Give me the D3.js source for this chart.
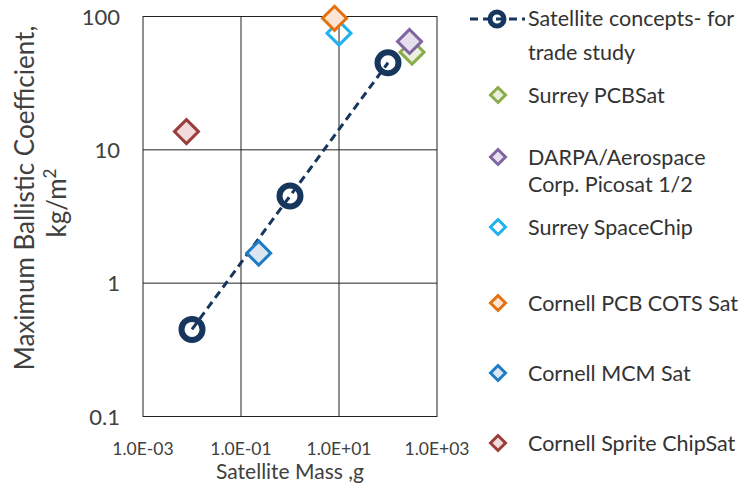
<!DOCTYPE html>
<html>
<head>
<meta charset="utf-8">
<script src="https://cdn.jsdelivr.net/npm/d3@7"></script>
<style>
  body { margin: 0; background: #fff; }
  text { font-family: Lato, 'Open Sans', sans-serif; fill: #333; }
</style>
</head>
<body>
<script>
// satellite concepts (dashed line with ring markers)
const conceptMass = [0.01, 1, 100]
const conceptBC = [0.45, 4.5, 45]

// reference satellites (diamonds), in legend order
const satNames = ['Surrey PCBSat', 'DARPA/Aerospace Corp. Picosat 1/2', 'Surrey SpaceChip',
  'Cornell PCB COTS Sat', 'Cornell MCM Sat', 'Cornell Sprite ChipSat']
const satMass = [310, 275, 10, 8.1, 0.23, 0.0077]
const satBC = [54, 65, 75, 97, 1.68, 13.7]

const xTicks = [1e-3, 1e-1, 1e1, 1e3]
const xTickLabels = ['1.0E-03', '1.0E-01', '1.0E+01', '1.0E+03']
const yTicks = [0.1, 1, 10, 100]
const yTickLabels = ['0.1', '1', '10', '100']

const width = 753, height = 489
const plot = { left: 143, right: 437, top: 16.5, bottom: 416.5 }
const navy = '#17365d'
const strokes = ['#8aac4c', '#8064a2', '#1fb2ec', '#e4700f', '#1f7cc4', '#9a3d3b']
const fills = ['#ebf1de', '#e6e0ec', 'none', '#fde4d3', '#dce6f2', '#f2dcdb']

const svg = d3.select('body').append('svg')
  .attr('width', width)
  .attr('height', height)

const x = d3.scaleLog().domain([1e-3, 1e3]).range([plot.left, plot.right])
const y = d3.scaleLog().domain([0.1, 100]).range([plot.bottom, plot.top])

// grid + frame
svg.append('g').selectAll('line')
  .data(xTicks.slice(1, -1))
  .enter().append('line')
  .attr('x1', d => x(d)).attr('x2', d => x(d))
  .attr('y1', plot.top).attr('y2', plot.bottom)
  .attr('stroke', '#222').attr('stroke-width', 1)
svg.append('g').selectAll('line')
  .data(yTicks.slice(1, -1))
  .enter().append('line')
  .attr('y1', d => y(d)).attr('y2', d => y(d))
  .attr('x1', plot.left).attr('x2', plot.right)
  .attr('stroke', '#222').attr('stroke-width', 1)
svg.append('rect')
  .attr('x', plot.left).attr('y', plot.top)
  .attr('width', plot.right - plot.left).attr('height', plot.bottom - plot.top)
  .attr('fill', 'none').attr('stroke', '#222').attr('stroke-width', 1)

// tick labels
svg.append('g').selectAll('text')
  .data(yTicks)
  .enter().append('text')
  .attr('x', plot.left - 23)
  .attr('y', d => y(d) + 8)
  .attr('text-anchor', 'end')
  .style('font-size', '22px')
  .style('fill', '#404040')
  .text((d, i) => yTickLabels[i])

svg.append('g').selectAll('text')
  .data(xTicks)
  .enter().append('text')
  .attr('x', d => x(d))
  .attr('y', 455)
  .attr('text-anchor', 'middle')
  .style('font-size', '17.5px')
  .style('fill', '#404040')
  .text((d, i) => xTickLabels[i])

// axis titles
svg.append('text')
  .attr('x', 290).attr('y', 479)
  .attr('text-anchor', 'middle')
  .style('font-size', '21px')
  .style('fill', '#404040')
  .text('Satellite Mass ,g')

const yTitle = svg.append('text')
  .attr('transform', 'translate(34, 198) rotate(-90)')
  .attr('text-anchor', 'middle')
  .style('font-size', '26px')
  .style('fill', '#404040')
yTitle.append('tspan').attr('x', 0).attr('y', 0).text('Maximum Ballistic Coefficient,')
const unit = yTitle.append('tspan').attr('x', -5).attr('y', 32).text('kg/m')
unit.append('tspan').attr('dy', -10).style('font-size', '17px').text('2')

// concept line + rings
const line = d3.line().x(d => x(d[0])).y(d => y(d[1]))
svg.append('path')
  .datum(conceptMass.map((m, i) => [m, conceptBC[i]]))
  .attr('d', line)
  .attr('fill', 'none')
  .attr('stroke', navy)
  .attr('stroke-width', 3)
  .attr('stroke-dasharray', '8,5')

svg.append('g').selectAll('circle')
  .data(conceptMass)
  .enter().append('circle')
  .attr('cx', d => x(d))
  .attr('cy', (d, i) => y(conceptBC[i]))
  .attr('r', 10.5)
  .attr('fill', 'none')
  .attr('stroke', navy)
  .attr('stroke-width', 6)

// diamonds
const diamond = s => `M0,${-s}L${s},0L0,${s}L${-s},0Z`
svg.append('g').selectAll('path')
  .data(satNames)
  .enter().append('path')
  .attr('d', diamond(12))
  .attr('transform', (d, i) => `translate(${x(satMass[i])},${y(satBC[i])})`)
  .attr('fill', (d, i) => fills[i])
  .attr('stroke', (d, i) => strokes[i])
  .attr('stroke-width', 3)

// legend
const lg = svg.append('g')
lg.append('line')
  .attr('x1', 470).attr('x2', 525).attr('y1', 19).attr('y2', 19)
  .attr('stroke', navy).attr('stroke-width', 3).attr('stroke-dasharray', '8,5')
lg.append('circle')
  .attr('cx', 497).attr('cy', 19).attr('r', 7)
  .attr('fill', 'none').attr('stroke', navy).attr('stroke-width', 5)
const conceptLabel = lg.append('text').attr('x', 528).attr('y', 26).style('font-size', '21.5px')
conceptLabel.append('tspan').attr('x', 528).text('Satellite concepts- for')
conceptLabel.append('tspan').attr('x', 528).attr('dy', 34).text('trade study')

const legendY = [95, 157, 227, 303, 373, 443]
satNames.forEach((name, i) => {
  lg.append('path')
    .attr('d', diamond(7.5))
    .attr('transform', `translate(498,${legendY[i]})`)
    .attr('fill', fills[i] === 'none' ? '#fff' : fills[i])
    .attr('stroke', strokes[i])
    .attr('stroke-width', 3)
  let t = lg.append('text').attr('x', 528).attr('y', legendY[i] + 8).style('font-size', '21.5px')
  if (name.startsWith('DARPA')) {
    t.append('tspan').attr('x', 528).text('DARPA/Aerospace')
    t.append('tspan').attr('x', 528).attr('dy', 27).text('Corp. Picosat 1/2')
  } else {
    t.text(name)
  }
})
</script>
</body>
</html>
